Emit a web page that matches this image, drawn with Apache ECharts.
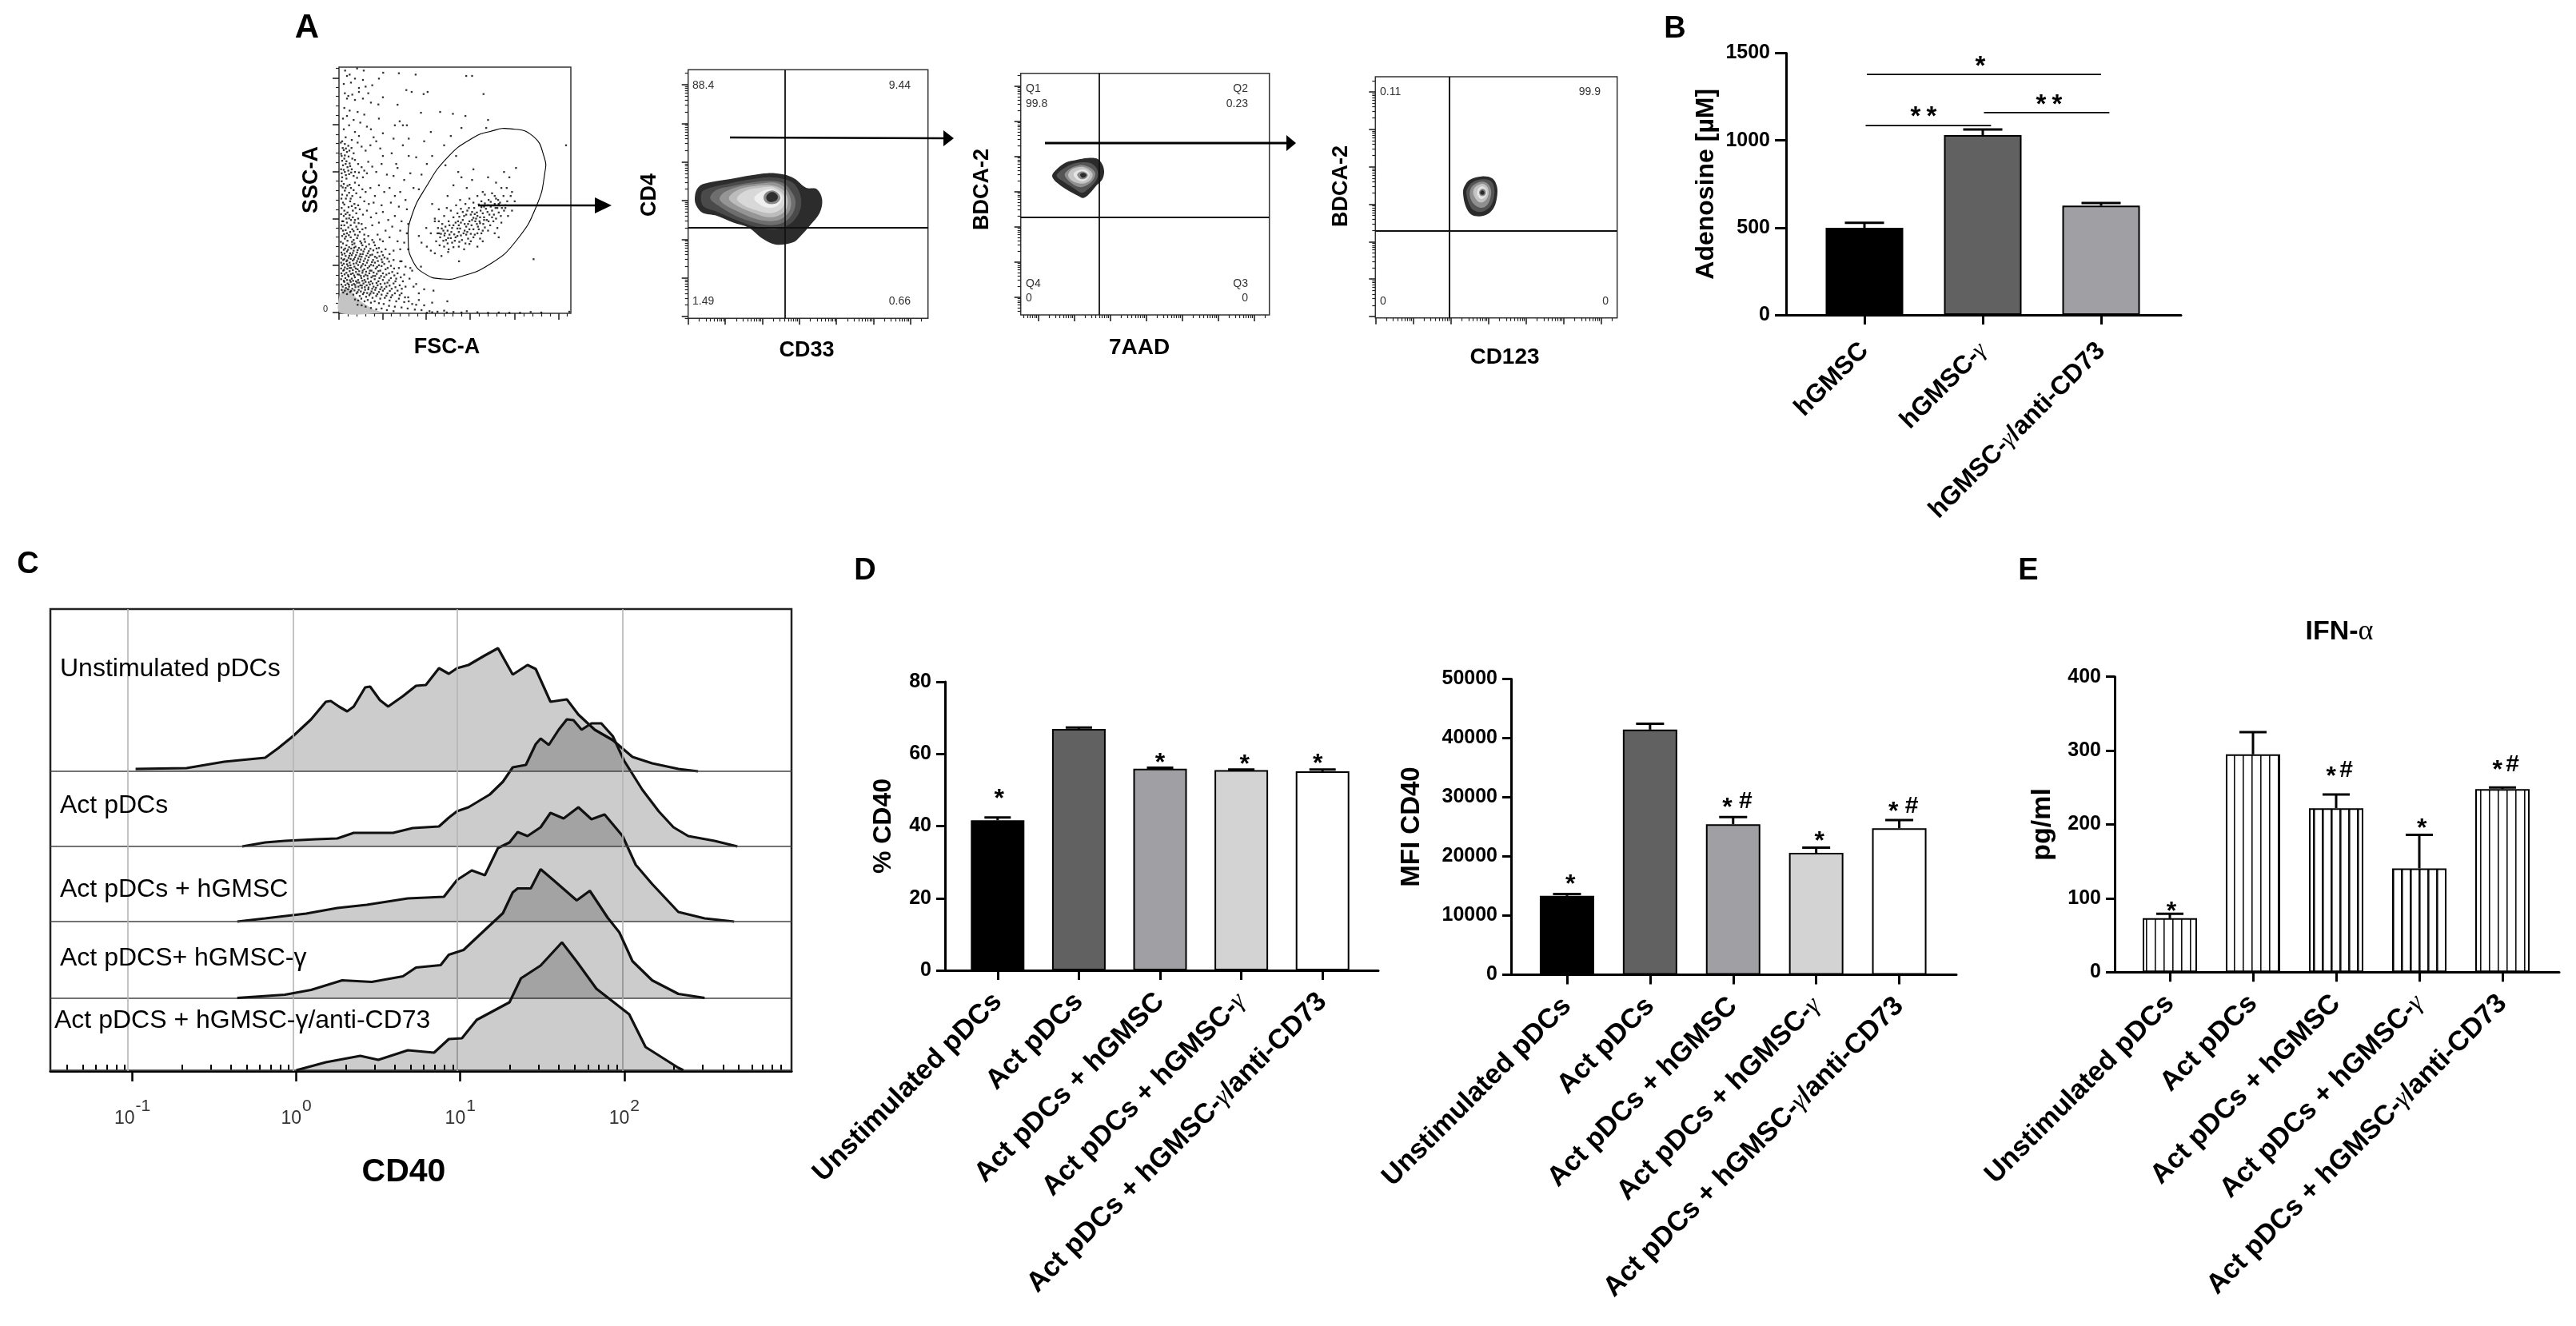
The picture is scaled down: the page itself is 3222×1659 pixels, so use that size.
<!DOCTYPE html>
<html><head><meta charset="utf-8">
<style>html,body{margin:0;padding:0;background:#fff}#c{width:3222px;height:1659px}</style>
<script src="https://cdn.jsdelivr.net/npm/echarts@6/dist/echarts.min.js"></script>
</head><body><div id="c"></div>
<script>
// ---------- DATA ----------
const adenosineCats = ['hGMSC','hGMSC-γ','hGMSC-γ/anti-CD73'];
const adenosineMean = [499,1030,626];
const adenosineHigh = [528,1063,641];
const adenosineLines = [[0,.02,2,0,1378],[0,.01,1,.07,1085],[1,.01,2,.07,1159]];
const adenosineMarks = [[1,-.02,1458,'*'],[0,.5,1169,'* *'],[1,.56,1235,'* *']];

const pdcCats = ['Unstimulated pDCs','Act pDCs','Act pDCs + hGMSC','Act pDCs + hGMSC-γ','Act pDCs + hGMSC-γ/anti-CD73'];
const pctMean = [41.6,66.9,55.9,55.5,55.2];
const pctHigh = [42.4,67.3,56.2,55.7,55.7];
const pctMarks = [[0,.02,49.2,'*'],[2,0,59.1,'*'],[3,.04,58.6,'*'],[4,-.06,58.8,'*']];
const mfiMean = [13330,41440,25450,20600,24770];
const mfiHigh = [13640,42420,26670,21500,26140];
const mfiMarks = [[0,.04,16200,'*'],[2,.04,29300,'* #'],[3,.04,23600,'*'],[4,.04,28500,'* #']];
const ifnMean = [73,295,222,140.5,248];
const ifnHigh = [79,325,240.5,186,250];
const ifnMarks = [[0,.02,90.5,'*'],[2,.03,273,'* #'],[3,.03,203,'*'],[4,.03,281,'* #']];

// panel C: log10(intensity), height in counts above each row's baseline
const histUnstim = [[-.98,3],[-.67,4],[-.44,12],[-.19,17],[-.11,29],[-.02,44],[.09,65],[.18,87],[.21,88],[.26,81],[.31,75],[.35,81],[.42,105],[.45,106],[.51,89],[.56,81],[.65,94],[.73,107],[.79,108],[.87,129],[.93,122],[.98,129],[1.05,133],[1.15,145],[1.23,154],[1.32,121],[1.41,133],[1.46,128],[1.55,87],[1.65,90],[1.72,71],[1.82,52],[1.93,39],[2.05,18],[2.17,10],[2.33,3],[2.45,0]];
const histAct = [[-.33,0],[-.19,5],[-.07,7],[.12,9],[.25,10],[.35,17],[.48,17],[.59,17],[.71,23],[.87,25],[.93,36],[.98,44],[1.05,49],[1.18,65],[1.26,81],[1.32,99],[1.40,102],[1.46,128],[1.49,135],[1.54,127],[1.60,146],[1.65,159],[1.69,158],[1.74,146],[1.80,154],[1.86,154],[1.93,138],[2.00,107],[2.11,71],[2.21,44],[2.30,24],[2.39,13],[2.55,7],[2.69,0]];
const histActG = [[-.36,0],[-.19,4],[.06,10],[.25,17],[.43,21],[.68,29],[.90,31],[.98,52],[1.07,64],[1.15,58],[1.23,92],[1.30,99],[1.35,112],[1.41,107],[1.49,118],[1.55,136],[1.63,129],[1.72,143],[1.80,128],[1.88,134],[1.99,107],[2.07,71],[2.17,47],[2.33,12],[2.49,4],[2.67,0]];
const histActGI = [[-.36,0],[-.07,4],[.09,10],[.28,22],[.46,20],[.65,27],[.73,38],[.88,41],[.93,54],[1.02,60],[1.15,85],[1.26,106],[1.32,132],[1.35,137],[1.43,137],[1.49,161],[1.57,147],[1.71,122],[1.79,134],[1.90,100],[1.97,82],[2.05,46],[2.17,22],[2.33,5],[2.49,0]];
const histActGIA = [[0,0],[.18,10],[.39,18],[.50,13],[.68,25],[.84,22],[.93,39],[1.01,40],[1.10,63],[1.30,85],[1.37,115],[1.49,131],[1.62,160],[1.71,136],[1.83,102],[2.03,70],[2.13,29],[2.33,3],[2.36,0]];
const histBaselines = [375,281,187,91.5,1];
const histNames = ['Unstimulated pDCs','Act pDCs','Act pDCs + hGMSC','Act pDCS+ hGMSC-γ','Act pDCS + hGMSC-γ/anti-CD73'];
const histGrid = [-1.03,-.017,.983,1.993];

// panel A: FSC-A / SSC-A events
const fscSscEvents = [[23,910],[68,918],[93,910],[40,895],[30,890],[60,880],[90,875],[45,865],[18,860],[100,850],[166,902],[225,900],[288,895],[150,880],[125,855],[75,845],[22,825],[35,815],[50,820],[75,830],[110,825],[60,800],[30,805],[90,805],[120,790],[165,810],[253,837],[273,830],[318,822],[333,830],[543,822],[478,890],[500,890],[148,783],[150,730],[220,782],[228,720],[20,770],[40,760],[70,755],[95,745],[30,740],[15,730],[55,725],[80,715],[105,700],[120,690],[38,705],[18,690],[60,680],[75,665],[48,650],[25,660],[130,660],[165,675],[210,705],[255,705],[308,752],[380,755],[428,748],[460,695],[475,740],[560,725],[553,695],[420,665],[345,680],[395,630],[320,645],[262,655],[240,705],
[12,645],[22,635],[35,628],[47,620],[18,612],[30,605],[55,600],[70,640],[85,625],[100,610],[118,630],[140,645],[155,618],[165,590],[198,600],[215,560],[262,590],[290,585],[240,630],[205,655],
[10,590],[20,580],[28,570],[40,562],[15,555],[32,548],[48,540],[60,575],[72,560],[85,548],[95,535],[22,530],[38,522],[55,515],[12,510],[28,505],[68,508],[90,510],[110,568],[125,550],[105,525],[140,530],[160,560],[180,520],[205,515],[220,545],[245,500],[268,525],[310,520],[330,560],[300,465],
[10,495],[18,485],[32,478],[45,470],[60,490],[75,480],[88,465],[22,460],[38,452],[12,445],[50,440],[65,450],[80,435],[100,455],[118,470],[135,440],[150,480],[170,455],[190,470],[210,440],[230,455],[250,425],[280,470],[26,430],[42,420],[15,415],[58,410],[72,405],[95,420],[112,410],[130,415],[160,405],[195,415],[225,400],[255,390],
[10,395],[20,385],[32,378],[18,365],[40,368],[52,385],[65,375],[78,390],[28,355],[12,345],[45,350],[58,340],[72,355],[90,370],[105,385],[120,360],[140,375],[165,380],[185,350],[210,365],[235,345],[260,335],[20,330],[35,322],[50,315],[65,325],[85,335],[100,320],[125,330],[150,340],[175,310],[200,325],[230,310],[255,300],[15,310],[30,300],[42,305],[60,295],[78,305],[95,295],
[12,290],[22,280],[32,272],[44,285],[55,275],[68,282],[80,270],[95,278],[110,290],[125,275],[145,295],[165,270],[190,285],[220,270],[245,265],[15,262],[28,255],[38,248],[50,258],[62,250],[75,245],[88,255],[102,250],[118,242],[135,255],[150,245],[175,240],[205,235],[18,238],[30,232],[42,225],[55,235],[68,228],[80,222],[92,232],[108,225],[125,220],[145,228],[165,218],[190,222],[230,240],[260,240],[12,220],[25,215],[36,208],[48,218],[60,210],[72,205],[85,212],[98,205],[112,210],[128,200],[142,208],[160,202],[182,205],[205,200],[235,195],[16,200],
[28,195],[40,190],[52,198],[65,188],[78,192],[90,185],[105,190],[120,182],[135,190],[150,180],[170,185],[195,178],[225,170],[250,175],[12,180],[22,172],[34,178],[46,170],[58,175],[70,165],[82,172],[95,165],[108,170],[122,160],[138,168],[155,160],[175,165],[200,155],[220,150],[245,145],[275,160],[16,160],[28,152],[40,158],[52,150],[64,155],[76,145],[88,152],[100,145],[114,150],[128,140],[142,148],[158,140],[178,145],[195,132],[215,130],[240,120],[265,130],[290,110],[12,140],[24,132],[36,138],[48,130],[60,135],[72,125],[84,132],[96,125],[108,130],[120,120],[134,128],[148,120],[165,125],[182,115],[205,112],[228,105],[250,100],[20,118],[32,112],[44,118],[56,110],[68,115],[80,105],[92,112],[104,105],[116,108],[130,100],[145,105],[160,98],[178,100],[198,92],[220,85],
[14,100],[26,95],[38,100],[50,92],[62,98],[74,88],[86,95],[98,88],[110,90],[122,82],[136,88],[150,80],[165,85],[182,75],[200,68],[235,75],[260,60],[300,50],[16,78],[30,72],[42,80],[54,70],[66,75],[78,65],[90,72],[102,62],[114,68],[126,58],[140,65],[155,55],[172,58],[190,48],[215,45],[245,42],[275,35],[320,30],[350,40],[60,52],[72,48],[84,55],[96,45],[108,50],[120,40],[134,45],[150,38],[168,35],[188,28],[210,25],[235,22],[258,18],[285,14],[310,12],[340,8],[370,6],[395,10],[330,2],[350,4],[405,3],[430,5],[460,3],[480,8],[520,4],[560,2],[600,3],[640,2],[680,2],[720,5],[760,3],[865,6],[180,12],[205,8],[120,20],[140,15],[160,18],[100,25],[85,30],[70,32],[300,75],[320,90],[355,85],[407,45],[280,100],[268,170],[230,195],[308,175],[731,203],[853,630],[451,195],
[300,290],[310,265],[330,250],[345,235],[360,225],[385,215],[410,230],[345,300],[328,320],[360,345],[375,390],[395,365],[350,410],[408,440],[430,480],[460,510],[480,470],[500,500],[540,455],[560,510],[590,490],[620,530],[640,510],[665,545],[610,470],[585,440],[650,455],[600,405],[625,395],[645,440],[660,420],[630,470],[505,540],[448,530],[350,590],[400,555],[440,590],
[370,300],[380,285],[392,310],[402,275],[415,295],[425,265],[438,285],[450,305],[462,275],[478,295],[490,260],[505,285],[372,320],[388,335],[400,325],[412,345],[425,320],[438,340],[450,330],[465,350],[478,325],[490,345],[505,315],[518,335],[365,270],[378,255],[395,250],[412,240],[430,248],[450,250],[470,240],[495,270],[520,300],[530,280],[540,310],[408,310],[420,282],[445,318],[458,292],[472,310],[485,280],[360,355],[375,345],
[430,360],[445,375],[458,392],[470,365],[482,385],[495,370],[508,395],[520,365],[532,385],[545,360],[558,380],[570,400],[582,370],[595,395],[608,365],[620,385],[500,350],[515,355],[528,345],[542,335],[555,350],[568,330],[580,345],[595,320],[610,340],[475,410],[490,430],[505,415],[520,440],[535,420],[548,445],[562,425],[575,450],[590,430],[605,415],[618,440],[632,420],[455,425],[440,405],[420,385],[405,395],[560,405],[545,400],[525,408],[635,365],[650,385],[585,300],[600,285],[540,270],[560,310],[520,250],[600,410]];
// second reading of the densest regions of the same plot
const fscSscDense = [[7,268],[19,297],[26,288],[37,293],[49,268],[58,262],[71,292],[84,263],[98,268],[113,259],[131,266],[154,277],[9,247],[23,243],[34,238],[46,243],[57,246],[70,237],[83,238],[96,241],[112,233],[129,236],[141,243],[160,231],[9,228],[21,224],[39,216],[52,226],[64,218],[77,214],[89,222],[103,216],[118,218],[135,212],[152,214],[171,209],[9,206],[20,203],[31,199],[44,204],[56,203],[68,196],[81,202],[93,196],[109,199],[124,192],[146,196],[163,192],[188,194],[8,190],[18,186],[30,184],[43,180],[55,186],[72,181],[85,178],[99,180],[114,176],[129,179],[143,174],[160,177],[183,170],[207,168],[8,168],[19,163],[31,167],[40,170],[52,162],[63,168],[76,158],[89,160],[102,156],[116,160],[130,153],[148,158],[165,150],[188,150],[208,142],[232,135],[9,150],[21,146],[34,143],[45,147],[57,142],[70,146],[82,140],[94,139],[107,141],[122,135],[136,140],[152,132],[170,136],[188,124],[212,120],[8,128],[18,122],[30,125],[41,124],[53,122],[64,120],[76,115],[88,122],[100,118],[112,116],[126,112],[141,114],[156,110],[172,112],[190,104],[212,98],[236,92],[9,108],[24,106],[37,108],[49,106],[61,106],[73,100],[86,104],[97,98],[111,97],[125,92],[139,96],[155,90],[171,92],[191,84],[210,75],[228,68],[248,60],[10,88],[22,85],[34,90],[46,84],[58,86],[70,80],[82,82],[94,78],[106,76],[118,74],[130,76],[144,72],[160,70],[178,66],[195,60],[225,55],[262,45],[290,32],
[7,640],[14,620],[26,618],[39,610],[8,598],[22,592],[36,588],[50,580],[12,572],[25,560],[42,552],[8,540],[18,538],[35,535],[46,528],[10,525],[26,518],[60,530],[75,528],[8,478],[25,470],[40,482],[55,462],[14,472],[30,442],[44,430],[9,430],[20,408],[36,398],[48,402],[62,395],[8,372],[25,372],[38,356],[52,360],[9,330],[16,345],[30,340],[60,350],[74,338],[44,330],[8,318],[25,312],[55,308],[70,315],[88,315],
[383,298],[396,292],[410,282],[422,305],[433,296],[445,290],[455,318],[468,300],[482,305],[495,298],[510,295],[525,315],[386,318],[398,300],[415,330],[430,330],[447,345],[458,340],[472,335],[485,335],[498,330],[512,345],[522,325],[535,300],[548,322],[376,300],[392,272],[408,262],[435,272],[452,268],[475,262],[490,315],[505,358],[518,378],[530,360],[540,375],[552,392],[565,370],[575,385],[588,395],[600,378],[612,395],[625,405],[488,395],[500,380],[465,380],[478,370],[452,362],[510,372],[535,398],[548,412],[570,418],[585,410],[598,425],[530,338],[545,350],[562,345],[575,360],[590,355]];
const fscSscGate = [[643,692],[728,665],[771,585],[773,525],[743,405],[668,275],[568,185],[448,135],[388,129],[328,145],[278,195],[260,275],[273,365],[328,475],[408,585],[498,655],[568,682]];
const fscSscDebris = [[8,85],[38,95],[58,65],[128,15],[168,3],[3,3]];

const cd4Rings = [
 [[25,450],[33,485],[58,505],[158,523],[238,537],[298,545],[358,540],[398,525],[443,490],[483,485],[503,445],[493,395],[458,350],[418,305],[393,285],[328,277],[278,300],[228,340],[168,360],[108,385],[53,397],[30,425]],
 [[48,450],[58,480],[158,507],[238,522],[303,530],[358,523],[398,505],[423,455],[418,400],[383,355],[328,335],[248,345],[178,370],[108,400],[58,420]],
 [[83,450],[103,480],[158,495],[238,510],[308,517],[358,507],[388,475],[403,440],[393,395],[358,360],[308,350],[248,360],[178,385],[118,420]],
 [[118,450],[138,475],[198,497],[258,505],[318,510],[358,495],[383,455],[383,410],[353,375],[308,365],[248,375],[178,405],[133,430]],
 [[153,450],[183,480],[238,495],[308,500],[353,485],[373,450],[368,410],[338,385],[298,380],[248,395],[188,420]],
 [[183,450],[218,480],[268,490],[318,493],[353,470],[363,440],[348,410],[308,395],[258,405],[208,425]],
 [[248,450],[273,475],[313,485],[343,470],[353,450],[338,425],[308,415],[273,425]],
 [[283,455],[293,473],[318,480],[340,467],[346,450],[333,433],[308,429],[290,437]],
 [[293,455],[303,470],[323,473],[336,460],[333,445],[316,437],[300,440]]];
const cd4RingShades = ['#2c2c2c','#4a4a4a','#6e6e6e','#959595','#bcbcbc','#d8d8d8','#efefef','#8a8a8a','#2f2f2f'];
const aadRings = [
 [[118,522],[135,547],[170,572],[210,582],[250,589],[285,587],[305,567],[313,537],[305,507],[285,487],[255,452],[235,439],[215,447],[170,472],[135,497]],
 [[135,522],[155,545],[190,565],[225,572],[262,570],[285,550],[290,525],[280,500],[250,470],[230,458],[200,475],[165,497]],
 [[165,525],[180,545],[205,558],[235,562],[265,550],[280,530],[270,505],[245,485],[220,480],[190,495]],
 [[178,527],[195,548],[235,555],[262,540],[270,525],[260,505],[235,493],[205,497],[185,510]],
 [[198,528],[215,543],[240,545],[258,530],[252,512],[235,502],[212,508]],
 [[212,528],[225,538],[243,535],[252,525],[243,512],[225,510],[215,518]],
 [[223,527],[235,533],[246,527],[243,518],[230,515]]];
const cd123Rings = [
 [[329,468],[334,493],[354,518],[399,531],[439,523],[456,493],[456,453],[444,413],[419,388],[389,381],[359,388],[339,418]],
 [[341,468],[349,493],[369,511],[401,520],[434,513],[446,486],[444,448],[431,418],[409,401],[384,398],[359,413]],
 [[354,468],[361,491],[379,505],[402,511],[424,501],[434,478],[431,448],[419,423],[397,413],[374,423],[359,443]],
 [[367,468],[372,488],[389,500],[404,503],[419,493],[425,473],[421,453],[409,438],[394,433],[379,443]],
 [[381,471],[389,488],[402,493],[415,483],[419,468],[411,453],[397,446],[385,455]],
 [[389,471],[394,481],[404,485],[413,478],[414,465],[405,457],[394,459]],
 [[393,471],[401,479],[409,473],[407,463],[397,463]]];
const smallRingShades = ['#2b2b2b','#555555','#8f8f8f','#c4c4c4','#e5e5e5','#8a8a8a','#2c2c2c'];

// ---------- BUILD ----------
const SANS = '"Liberation Sans"';
const BLACK = '#000';
const option = {animation:false,backgroundColor:'#fff',grid:[],xAxis:[],yAxis:[],series:[],graphic:[],title:[]};
const g = option.graphic;

function txt(x,y,text,size,o={}){
  g.push({type:'text',x,y,rotation:o.rot||0,z:50,style:{text,fontFamily:o.family||SANS,fontSize:size,fontWeight:o.weight||'bold',fill:o.fill||BLACK,align:o.align||'center',verticalAlign:'middle'}});
}
function arrow(x0,y0,x1,y1,len,half,w){
  g.push({type:'line',z:60,shape:{x1:x0,y1:y0,x2:x1-len+1,y2:y1},style:{stroke:BLACK,lineWidth:w}});
  g.push({type:'polygon',z:60,shape:{points:[[x1-len,y1-half],[x1,y1],[x1-len,y1+half]]},style:{fill:BLACK}});
}
function logMinor(majors,decade,max){
  const out=[];
  const all=[majors[0]-decade,...majors];
  all.forEach(m=>{for(let k=2;k<10;k++){const v=m+decade*Math.log10(k);if(v>0&&v<max)out.push(v);}});
  return out;
}
function linMinor(majors,step,n,max){
  const out=[];
  const last=majors[majors.length-1];
  const all=[...majors,last+step];
  all.forEach(m=>{for(let k=1;k<n;k++){const v=m+step*k/n;if(v<max)out.push(v);}});
  return out;
}
function tickAxis(gridIndex,max,pos,vals,len,w){
  return {type:'value',gridIndex,min:0,max,position:pos,axisLine:{show:false},splitLine:{show:false},axisLabel:{show:false},
    axisTick:{show:true,length:len,lineStyle:{color:'#222',width:w},customValues:vals}};
}
function flowPlot(o){
  const gi=option.grid.length;
  option.grid.push({left:o.left,top:o.top,width:o.w,height:o.h,show:true,borderColor:'#333',borderWidth:1.5,backgroundColor:'#fff'});
  const xi=option.xAxis.length, yi=option.yAxis.length;
  option.xAxis.push(tickAxis(gi,o.xMax,'bottom',o.xMaj,8,1.6),tickAxis(gi,o.xMax,'bottom',o.xMin,4,1.2));
  option.yAxis.push(tickAxis(gi,o.yMax,'left',o.yMaj,8,1.6),tickAxis(gi,o.yMax,'left',o.yMin,4,1.2));
  return {xAxisIndex:xi,yAxisIndex:yi};
}
function rings(ax,list,shades,quad,lw){
  option.series.push({type:'custom',...ax,silent:true,clip:false,encode:{x:0,y:1},z:3,
    data:list.map((_,i)=>[i,i]),
    renderItem:(p,api)=>{const i=api.value(0);return {type:'polygon',z2:i,shape:{points:list[i].map(pt=>api.coord(pt)),smooth:.35},style:{fill:shades[i]}};},
    markLine:quad?{silent:true,symbol:'none',animation:false,label:{show:false},lineStyle:{color:'#111',type:'solid',width:lw},data:[{xAxis:quad[0]},{yAxis:quad[1]}]}:undefined});
}

// Panel A
const a1 = flowPlot({left:424,top:84,w:290,h:308,xMax:871,yMax:923,xMaj:[0,164,328,493,661,825],xMin:linMinor([0,164,328,493,661,825],165,5,871),yMaj:[3,180,355,531,708,883],yMin:linMinor([3,180,355,531,708,883],176,5,923)});
option.series.push({type:'custom',...a1,silent:true,encode:{x:0,y:1},z:2,data:[[0,0],[1,1]],
  renderItem:(p,api)=>{const i=api.value(0);return i===0
    ?{type:'polygon',shape:{points:fscSscDebris.map(q=>api.coord(q)),smooth:.3},style:{fill:'#c4c4c4'}}
    :{type:'polygon',z2:20,shape:{points:fscSscGate.map(q=>api.coord(q)),smooth:.5},style:{fill:'none',stroke:'#000',lineWidth:1.1}};}});
option.series.push({type:'scatter',...a1,silent:true,symbol:'rect',symbolSize:2.3,itemStyle:{color:'#000'},data:fscSscEvents,z:3});
option.series.push({type:'scatter',...a1,silent:true,symbol:'rect',symbolSize:2.3,itemStyle:{color:'#000'},data:fscSscDense,z:3});
txt(407,387,'0',11,{weight:'normal',fill:'#222'});
txt(390,225,'SSC-A',27,{rot:Math.PI/2});
txt(559,435,'FSC-A',27);
arrow(598,257,765,257,21,10,2.6);

const maj=(s,st,n)=>Array.from({length:n},(_,i)=>s+st*i);
const a2xM=maj(0,139,7), a2yM=maj(7,145,7);
const a2 = flowPlot({left:860.7,top:87.3,w:300,h:311,xMax:900,yMax:933,xMaj:a2xM,xMin:logMinor(a2xM,139,900),yMaj:a2yM,yMin:logMinor(a2yM,145,933)});
rings(a2,cd4Rings,cd4RingShades,[363,340],1.8);
[['88.4',866,107,'left'],['9.44',1139,107,'right'],['1.49',866,377,'left'],['0.66',1139,377,'right']].forEach(t=>txt(t[1],t[2],t[0],14,{weight:'normal',fill:'#333',align:t[3]}));
txt(813,244,'CD4',27,{rot:Math.PI/2});
txt(1009,439,'CD33',27);
arrow(913,172,1193,173,13,10,2.6);

const a3xM=maj(65,135,7), a3yM=maj(67,132,7);
const a3 = flowPlot({left:1276.7,top:91.7,w:311,h:302.3,xMax:933,yMax:907,xMaj:a3xM,xMin:logMinor(a3xM,135,933),yMaj:a3yM,yMin:logMinor(a3yM,132,907)});
rings(a3,aadRings,smallRingShades,[293,366],1.8);
[['Q1',1283,111,'left'],['99.8',1283,130,'left'],['Q2',1561,111,'right'],['0.23',1561,130,'right'],['Q4',1283,355,'left'],['0',1283,373,'left'],['Q3',1561,355,'right'],['0',1561,373,'right']].forEach(t=>txt(t[1],t[2],t[0],14,{weight:'normal',fill:'#333',align:t[3]}));
txt(1229,237,'BDCA-2',27,{rot:Math.PI/2});
txt(1425,435,'7AAD',28);
arrow(1307,179,1621,179,12,10,3);

const a4xM=maj(0,141,7), a4yM=maj(5,140.5,7);
const a4 = flowPlot({left:1720.3,top:96,w:302.4,h:301.7,xMax:907,yMax:905,xMaj:a4xM,xMin:logMinor(a4xM,141,907),yMaj:a4yM,yMin:logMinor(a4yM,140.5,905)});
rings(a4,cd123Rings,smallRingShades,[277,326],2);
[['0.11',1726,115,'left'],['99.9',2002,115,'right'],['0',1726,377,'left'],['0',2012,377,'right']].forEach(t=>txt(t[1],t[2],t[0],14,{weight:'normal',fill:'#333',align:t[3]}));
txt(1678,233,'BDCA-2',27,{rot:Math.PI/2});
txt(1882,447,'CD123',28);

// Bar panels
function gammaLabel(v){return String(v).replace('γ','{g|γ}');}
const solid = ['#000000','#616161','#a0a0a4','#d3d3d3','#ffffff'];
function stripe(w){
  const c=document.createElement('canvas');c.width=11;c.height=8;
  const x=c.getContext('2d');x.fillStyle='#fff';x.fillRect(0,0,11,8);x.fillStyle='#111';x.fillRect(0,0,w,8);
  return {image:c,repeat:'repeat'};
}
function barPanel(o){
  const gx=option.grid.length;
  option.grid.push({left:o.axisX,width:o.axisR-o.axisX,top:o.top,height:o.bottom-o.top});
  option.xAxis.push({type:'value',gridIndex:gx,min:0,max:1,axisLine:{show:true,onZero:false,lineStyle:{color:BLACK,width:o.lw}},axisTick:{show:false},axisLabel:{show:false},splitLine:{show:false}});
  option.yAxis.push({type:'value',gridIndex:gx,show:false,min:0,max:1});
  const gi=option.grid.length;
  option.grid.push({left:o.start,width:o.end-o.start,top:o.top,height:o.bottom-o.top});
  const xi=option.xAxis.length, yi=option.yAxis.length;
  option.xAxis.push({type:'category',gridIndex:gi,data:o.cats,
    axisLine:{show:true,lineStyle:{color:BLACK,width:o.lw}},
    axisTick:{show:true,alignWithLabel:true,length:12,lineStyle:{color:BLACK,width:o.lw}},
    axisLabel:{show:true,interval:0,rotate:45,margin:o.catMargin,fontFamily:SANS,fontWeight:'bold',fontSize:o.catSize,color:BLACK,formatter:gammaLabel,
      rich:{g:{fontFamily:'"Liberation Serif"',fontStyle:'italic',fontWeight:'normal',fontSize:o.catSize-2,color:BLACK}}}});
  option.yAxis.push({type:'value',gridIndex:gi,min:0,max:o.max,interval:o.step,offset:o.start-o.axisX,
    name:o.yName,nameLocation:'middle',nameGap:o.nameGap,nameRotate:90,
    nameTextStyle:{fontFamily:SANS,fontWeight:'bold',fontSize:o.nameSize,color:BLACK},
    axisLine:{show:true,onZero:false,lineStyle:{color:BLACK,width:o.lw}},
    axisTick:{show:true,length:o.tick,lineStyle:{color:BLACK,width:o.lw}},
    axisLabel:{show:true,margin:o.tick+6,fontFamily:SANS,fontWeight:'bold',fontSize:25,color:BLACK,formatter:v=>String(v)},
    splitLine:{show:false}});
  const ax={xAxisIndex:xi,yAxisIndex:yi};
  option.series.push({type:'bar',...ax,barWidth:o.barW,z:2,
    data:o.mean.map((v,i)=>({value:v,itemStyle:{color:o.fills[i],borderColor:BLACK,borderWidth:2}}))});
  option.series.push({type:'custom',...ax,silent:true,clip:false,z:3,encode:{x:0,y:[1,2]},
    data:o.mean.map((v,i)=>[i,v,o.high[i]]),
    renderItem:(p,api)=>{
      const a=api.coord([api.value(0),api.value(1)]), b=api.coord([api.value(0),api.value(2)]);
      const st={stroke:BLACK,lineWidth:o.lw};
      return {type:'group',children:[
        {type:'line',shape:{x1:a[0],y1:a[1],x2:b[0],y2:b[1]},style:st},
        {type:'line',shape:{x1:a[0]-o.cap/2,y1:b[1],x2:a[0]+o.cap/2,y2:b[1]},style:st}]};
    }});
  if(o.lines) option.series.push({type:'custom',...ax,silent:true,clip:false,z:4,encode:{x:0,y:4},
    data:o.lines,
    renderItem:(p,api)=>{
      const w=api.size([1,0])[0];
      const a=api.coord([api.value(0),api.value(4)]), b=api.coord([api.value(2),api.value(4)]);
      return {type:'line',shape:{x1:a[0]+api.value(1)*w,y1:a[1],x2:b[0]+api.value(3)*w,y2:a[1]},style:{stroke:BLACK,lineWidth:1.8}};
    }});
  option.series.push({type:'custom',...ax,silent:true,clip:false,z:5,encode:{x:0,y:2},
    dimensions:['cat','frac','v','t'],
    data:o.marks,
    renderItem:(p,api)=>{
      const w=api.size([1,0])[0];
      const c=api.coord([api.value(0),api.value(2)]);
      const toks=o.marks[p.dataIndex][3].split(' ');
      return {type:'group',children:toks.map((t,k)=>({type:'text',
        x:c[0]+api.value(1)*w+(k-(toks.length-1)/2)*o.gap, y:c[1]+(t==='*'?8:0),
        style:{text:t,fontFamily:SANS,fontWeight:'bold',fontSize:t==='*'?o.star:o.star-2,fill:BLACK,align:'center',verticalAlign:'middle'}}))};
    }});
}
barPanel({cats:adenosineCats,mean:adenosineMean,high:adenosineHigh,marks:adenosineMarks,lines:adenosineLines,fills:solid,max:1500,step:500,
  axisX:2234,axisR:2728,start:2258,end:2702,top:66.5,bottom:394,barW:97,cap:49,lw:3,tick:14,gap:20,star:33,
  yName:'Adenosine [µM]',nameGap:84,nameSize:32,catSize:32,catMargin:40});
barPanel({cats:pdcCats,mean:pctMean,high:pctHigh,marks:pctMarks,fills:solid,max:80,step:20,
  axisX:1182,axisR:1724,start:1197,end:1705,top:853,bottom:1214,barW:67,cap:33,lw:3,tick:11,gap:20,star:32,
  yName:'% CD40',nameGap:61,nameSize:32,catSize:34.5,catMargin:34});
barPanel({cats:pdcCats,mean:mfiMean,high:mfiHigh,marks:mfiMarks,fills:solid,max:50000,step:10000,
  axisX:1890,axisR:2447,start:1908,end:2427.5,top:849.5,bottom:1219.5,barW:68,cap:35,lw:3,tick:11,gap:23,star:32,
  yName:'MFI CD40',nameGap:108,nameSize:33,catSize:34.5,catMargin:34});
barPanel({cats:pdcCats,mean:ifnMean,high:ifnHigh,marks:ifnMarks,fills:[stripe(1.6),stripe(1.6),stripe(2.6),stripe(2.6),stripe(1.6)],max:400,step:100,
  axisX:2645,axisR:3201,start:2662,end:3182,top:846.7,bottom:1216.3,barW:68,cap:34,lw:3,tick:11,gap:19,star:32,
  yName:'pg/ml',nameGap:73,nameSize:34,catSize:34.5,catMargin:34});
option.title.push({text:'IFN-{a|α}',left:2921,top:768,textAlign:'center',textStyle:{fontFamily:SANS,fontWeight:'bold',fontSize:34,color:BLACK,
  rich:{a:{fontFamily:'"Liberation Serif"',fontWeight:'normal',fontSize:36,color:BLACK}}}});

// Panel C
(function(){
  const gi=option.grid.length;
  const left=63,right=990,top=762,bottom=1340;
  option.grid.push({left,top,width:right-left,height:bottom-top,show:true,borderColor:'#222',borderWidth:2.5,backgroundColor:'#fff'});
  const xi=option.xAxis.length, yi=option.yAxis.length;
  const majors=[-1,0,1,2];
  const minors=[];
  [-2,-1,0,1,2].forEach(d=>{for(let k=2;k<10;k++){const v=d+Math.log10(k);if(v>-1.5&&v<3.02)minors.push(v);}});
  option.xAxis.push({type:'value',gridIndex:gi,min:-1.5,max:3.02,axisLine:{show:true,onZero:false,lineStyle:{color:BLACK,width:3}},splitLine:{show:false},
    axisTick:{show:true,length:13,lineStyle:{color:BLACK,width:2.5},customValues:majors},
    axisLabel:{show:true,customValues:majors,margin:32,color:'#333',fontFamily:SANS,
      formatter:v=>'{b|10}{s|'+v+'}',
      rich:{b:{fontSize:23,fontFamily:SANS,color:'#333',padding:[16,0,0,0]},s:{fontSize:21,fontFamily:SANS,color:'#333',padding:[0,0,14,1]}}}});
  option.xAxis.push({type:'value',gridIndex:gi,min:-1.5,max:3.02,axisLine:{show:false},splitLine:{show:false},axisLabel:{show:false},
    axisTick:{show:true,length:8,lineStyle:{color:BLACK,width:2},customValues:minors}});
  option.yAxis.push({type:'value',gridIndex:gi,min:0,max:578,show:false});
  const profiles=[histUnstim,histAct,histActG,histActGI,histActGIA];
  profiles.forEach((pts,i)=>{
    option.series.push({type:'line',name:histNames[i],xAxisIndex:xi,yAxisIndex:yi,silent:true,showSymbol:false,symbol:'none',smooth:false,clip:true,z:2+i,
      data:pts.map(p=>[p[0],p[1]+histBaselines[i]]),
      lineStyle:{color:'#111',width:3.2},
      areaStyle:{color:'rgba(0,0,0,0.2)',origin:histBaselines[i],opacity:1},
      markLine:i===0?{silent:true,symbol:'none',animation:false,label:{show:false},
        data:[...histBaselines.map(b=>({yAxis:b,lineStyle:{color:'#444',width:1.6,type:'solid'}})),
              ...histGrid.map(v=>({xAxis:v,lineStyle:{color:'#b5b5b5',width:1.6,type:'solid'}}))]}:undefined});
  });
  txt(75,837,histNames[0],32,{weight:'normal',align:'left'});
  txt(75,1008,'Act pDCs',32,{weight:'normal',align:'left'});
  txt(75,1113,'Act pDCs + hGMSC',32,{weight:'normal',align:'left'});
  txt(75,1199,histNames[3],32,{weight:'normal',align:'left'});
  txt(68,1277,histNames[4],32,{weight:'normal',align:'left'});
  txt(505,1467,'CD40',41);
})();

// Panel letters
txt(384,35,'A',42);txt(2095,37,'B',38);txt(35,707,'C',38);txt(1082,715,'D',38);txt(2537,715,'E',38);

const chart = echarts.init(document.getElementById('c'),null,{renderer:'canvas',width:3222,height:1659});
chart.setOption(option);
</script>
</body></html>
